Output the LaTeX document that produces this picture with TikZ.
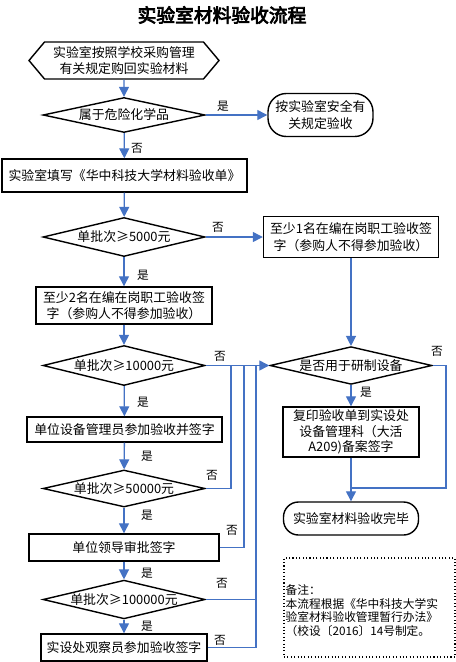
\documentclass[tikz,border=0pt]{standalone}
\usepackage{fontspec}
\setmainfont{Noto Sans CJK SC}
\newfontfamily\titlefont[FakeBold=4]{Noto Sans CJK SC}
\usetikzlibrary{shapes, shapes.geometric, shapes.symbols, arrows.meta, positioning}
\definecolor{flowblue}{RGB}{68,114,196}

\begin{document}
\begin{tikzpicture}[x=0.03cm, y=-0.03cm,
  font=\fontsize{11}{14}\selectfont,
  box/.style={rectangle, draw, line width=1.2pt, fill=white, align=center, inner sep=1pt},
  ask/.style={diamond, draw, line width=1.2pt, fill=white, aspect=4, inner sep=0pt, minimum width=4.86cm, minimum height=1.14cm},
  term/.style={rectangle, rounded corners=0.45cm, draw, line width=1.2pt, align=center},
  flow/.style={draw=flowblue, line width=1.1pt, -{Triangle[length=3mm, width=3mm]}},
  link/.style={draw=flowblue, line width=1.1pt},
  tag/.style={font=\fontsize{10}{12}\selectfont, inner sep=0pt}]

  \useasboundingbox (0,0) rectangle (456,662);

  \node (title) at (222,15) {\titlefont\fontsize{16}{18}\selectfont 实验室材料验收流程};

  % left column
  \node[signal, signal to=west and east, signal pointer angle=100, draw, line width=1.2pt, minimum width=5.7cm, minimum height=1.11cm, align=center, inner sep=1pt] (buy) at (124,60.5) {实验室按照学校采购管理\\有关规定购回实验材料};
  \node[ask, minimum height=1.05cm] (danger) at (124,115) {属于危险化学品};
  \node[box, minimum width=7.35cm, minimum height=0.99cm] (fill) at (124.5,175.5) {实验室填写《华中科技大学材料验收单》};
  \node[ask, minimum height=1.17cm] (d5000) at (124,237) {单批次≥5000元};
  \node[box, minimum width=5.28cm, minimum height=1.11cm] (two) at (124,305.5) {至少2名在编在岗职工验收签\\字（参购人不得参加验收）};
  \node[ask, minimum height=1.2cm] (d10000) at (124,365.5) {单批次≥10000元};
  \node[box, minimum width=5.85cm, minimum height=0.75cm] (mgr) at (124.5,429.5) {单位设备管理员参加验收并签字};
  \node[ask, minimum height=1.11cm] (d50000) at (124,488.5) {单批次≥50000元};
  \node[box, minimum width=5.7cm, minimum height=0.81cm] (lead) at (124,547.5) {单位领导审批签字};
  \node[ask, minimum height=1.05cm] (d100k) at (124,599.5) {单批次≥100000元};
  \node[box, minimum width=4.98cm, minimum height=0.81cm] (obs) at (124,647.5) {实设处观察员参加验收签字};

  % right column
  \node[term, rounded corners=0.55cm, minimum width=3.15cm, minimum height=1.29cm] (safe) at (320.5,115) {按实验室安全有\\关规定验收};
  \node[box, minimum width=5.25cm, minimum height=1.23cm] (one) at (351,237) {至少1名在编在岗职工验收签\\字（参购人不得参加验收）};
  \node[ask, minimum height=1.11cm] (equip) at (351,365.5) {是否用于研制设备};
  \node[box, minimum width=4.08cm, minimum height=1.5cm, font=\fontsize{11}{13}\selectfont] (copy) at (351,432) {复印验收单到实设处\\设备管理科（大活\\A209)备案签字};
  \node[term, minimum width=4.05cm, minimum height=0.99cm] (done) at (351,518.5) {实验室材料验收完毕};

  \node[draw, dotted, line width=0.9pt, minimum width=5.13cm, minimum height=2.97cm] (notebox) at (369.5,607.5) {};
  \node[below right=0.8cm and 0.06cm of notebox.north west, inner sep=0pt, align=left, font=\fontsize{10}{11.8}\selectfont] (notetext) {备注：\\本流程根据《华中科技大学实\\验室材料验收管理暂行办法》\\（校设〔2016〕14号制定。};

  % junctions
  \coordinate (j1) at (231,365.5);
  \coordinate (j2) at (244,365.5);
  \coordinate (j3) at (256,365.5);
  \coordinate (j4) at (256,599.5);
  \coordinate (turn) at (446,488);
  \coordinate (merge) at (351,488);

  % connectors
  \draw[flow] (buy) -- (danger);
  \draw[flow] (danger.east) -- (safe.west);
  \draw[flow] (danger) -- (fill);
  \draw[flow] (fill) -- (d5000);
  \draw[flow] (d5000.east) -- (one.west);
  \draw[flow] (one) -- (equip);
  \draw[flow] (d5000) -- (two);
  \draw[flow] (two) -- (d10000);
  \draw[flow] (d10000.east) -- (equip.west);
  \draw[flow] (d10000) -- (mgr);
  \draw[flow] (mgr) -- (d50000);
  \draw[link] (d50000.east) -| (j1);
  \draw[flow] (d50000) -- (lead);
  \draw[link] (lead.east) -| (j2);
  \draw[flow] (lead) -- (d100k);
  \draw[link] (d100k.east) -- (j4);
  \draw[flow] (d100k) -- (obs);
  \draw[link] (obs.east) -| (j3);
  \draw[flow] (equip) -- (copy);
  \draw[flow] (copy) -- (done);
  \draw[link] (equip.east) -| (turn) -- (merge);

  % labels
  \node[tag] (yes1) at (223,106) {是};
  \node[tag] (no1) at (137,148) {否};
  \node[tag] (no2) at (218,227) {否};
  \node[tag] (yes2) at (143,275) {是};
  \node[tag] (no3) at (220,356) {否};
  \node[tag] (yes3) at (143,402) {是};
  \node[tag] (yes4) at (147,456) {是};
  \node[tag] (no4) at (212,475) {否};
  \node[tag] (yes5) at (147,515) {是};
  \node[tag] (no5) at (232,530) {否};
  \node[tag] (yes6) at (147,573) {是};
  \node[tag] (no6) at (222,583) {否};
  \node[tag] (yes7) at (147,626) {是};
  \node[tag] (no7) at (220,640) {否};
  \node[tag] (yes8) at (366,392) {是};
  \node[tag] (no8) at (437,351) {否};
\end{tikzpicture}
\end{document}
